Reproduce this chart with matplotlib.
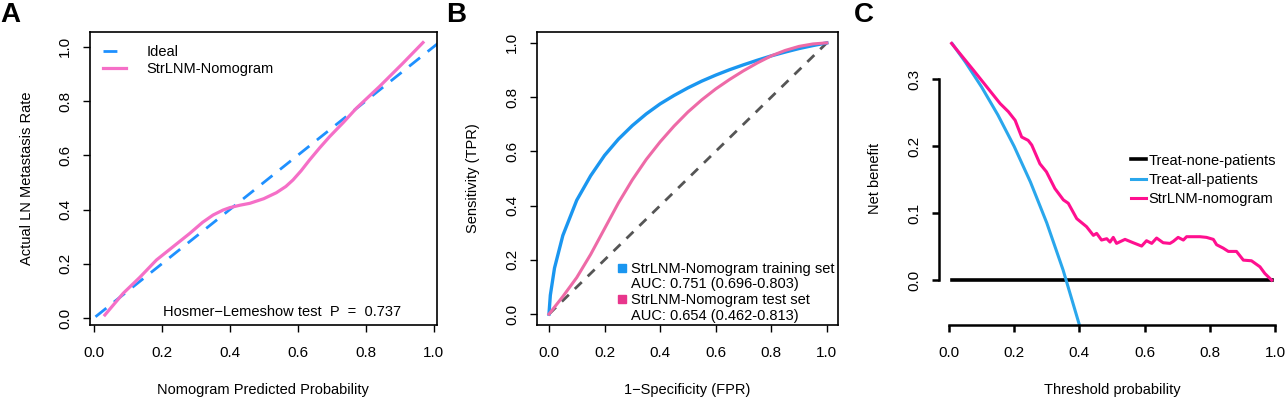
import matplotlib
matplotlib.use("Agg")
import matplotlib.pyplot as plt
from matplotlib.lines import Line2D

plt.rcParams['font.family'] = ['Liberation Sans', 'DejaVu Sans']
plt.rcParams['font.size'] = 10.5

# A: calibration curve
cal_pred = [0.032, 0.086, 0.135, 0.184, 0.235, 0.282, 0.320, 0.351, 0.380, 0.400, 0.430, 0.459,
            0.500, 0.537, 0.565, 0.586, 0.610, 0.635, 0.665, 0.694, 0.735, 0.773, 0.841, 0.910, 0.969]
cal_obs = [0.011, 0.091, 0.150, 0.214, 0.265, 0.312, 0.353, 0.380, 0.398, 0.407, 0.416, 0.423,
           0.440, 0.462, 0.485, 0.509, 0.543, 0.583, 0.628, 0.669, 0.722, 0.774, 0.854, 0.940, 1.016]
ideal = [-0.05, 1.05]
hl_label = "Hosmer\u2212Lemeshow test  P  =  0.737"

# B: ROC curves
train_fpr = [0.0, 0.005, 0.02, 0.05, 0.10, 0.15, 0.20, 0.25, 0.30, 0.35, 0.40, 0.45,
             0.50, 0.55, 0.60, 0.65, 0.70, 0.75, 0.80, 0.85, 0.90, 0.95, 1.0]
train_tpr = [0.0, 0.070, 0.170, 0.290, 0.420, 0.510, 0.585, 0.645, 0.695, 0.738, 0.775, 0.806,
             0.834, 0.859, 0.881, 0.901, 0.919, 0.936, 0.952, 0.966, 0.979, 0.990, 1.0]
test_fpr = [0.0, 0.05, 0.10, 0.15, 0.20, 0.25, 0.30, 0.35, 0.40, 0.45, 0.50,
            0.55, 0.60, 0.65, 0.70, 0.75, 0.80, 0.85, 0.90, 0.95, 1.0]
test_tpr = [0.0, 0.065, 0.135, 0.220, 0.315, 0.410, 0.495, 0.570, 0.635, 0.693, 0.745,
            0.790, 0.830, 0.865, 0.897, 0.926, 0.952, 0.972, 0.987, 0.996, 1.0]
diag = [0.0, 1.0]
roc_labels = ["StrLNM-Nomogram training set", "AUC: 0.751 (0.696-0.803)",
              "StrLNM-Nomogram test set", "AUC: 0.654 (0.462-0.813)"]

# C: decision curve
all_thr = [0.01, 0.05, 0.10, 0.15, 0.20, 0.25, 0.30, 0.35, 0.40]
all_nb = [0.3535, 0.3263, 0.2889, 0.2471, 0.200, 0.1467, 0.0857, 0.0154, -0.0667]
none_thr = [0.01, 0.99]
none_nb = [0.0, 0.0]
nom_thr = [0.008, 0.075, 0.116, 0.157, 0.182, 0.203, 0.223, 0.243, 0.254, 0.279, 0.299, 0.325,
           0.351, 0.366, 0.392, 0.422, 0.443, 0.453, 0.468, 0.484, 0.494, 0.504, 0.514, 0.540,
           0.565, 0.591, 0.606, 0.622, 0.637, 0.657, 0.678, 0.688, 0.703, 0.719, 0.729, 0.770,
           0.790, 0.811, 0.821, 0.841, 0.857, 0.882, 0.903, 0.928, 0.954, 0.969, 0.990]
nom_nb = [0.354, 0.314, 0.289, 0.264, 0.252, 0.239, 0.214, 0.209, 0.202, 0.174, 0.162, 0.137,
          0.120, 0.115, 0.092, 0.080, 0.067, 0.070, 0.060, 0.062, 0.057, 0.064, 0.055, 0.061,
          0.056, 0.051, 0.059, 0.055, 0.063, 0.056, 0.055, 0.058, 0.064, 0.060, 0.065, 0.065,
          0.064, 0.061, 0.053, 0.048, 0.043, 0.043, 0.030, 0.029, 0.020, 0.010, 0.000]

ticks01 = [0.0, 0.2, 0.4, 0.6, 0.8, 1.0]


def style_ticks(ax, width=1.0):
    ax.tick_params(direction='out', length=5, width=width, labelsize=11)
    ax.tick_params(axis='x', pad=10)
    ax.tick_params(axis='y', pad=8)
    ax.set_xticks(ticks01)
    ax.set_xticklabels([f"{t:.1f}" for t in ticks01])
    for lab in ax.get_yticklabels():
        lab.set_rotation(90)
        lab.set_va('center')


fig = plt.figure(figsize=(12.85, 3.98), dpi=100)

# ---- A
axA = fig.add_axes([0.0700, 0.1834, 0.2700, 0.7362])
axA.plot(ideal, ideal, color='#1E90FF', lw=2.0, ls=(0, (5, 3.5)), label='Ideal')
axA.plot(cal_pred, cal_obs, color='#F56FC7', lw=2.3, label='StrLNM-Nomogram')
axA.set_xlim(-0.012, 1.01)
axA.set_ylim(-0.026, 1.055)
axA.set_yticks(ticks01)
axA.set_yticklabels([f"{t:.1f}" for t in ticks01])
style_ticks(axA)
for s in axA.spines.values():
    s.set_linewidth(1.2)
axA.text(0.553, 0.022, hl_label, ha='center', va='center', fontsize=10.5)
axA.legend(loc='upper left', frameon=False, handlelength=1.6, handletextpad=1.4,
           labelspacing=0.2, borderaxespad=0.5, fontsize=10.5)
axA.set_xlabel("Nomogram Predicted Probability", va='center')
axA.xaxis.set_label_coords(0.5, -0.222)
axA.set_ylabel("Actual LN Metastasis Rate", va='center')
axA.yaxis.set_label_coords(-0.1816, 0.5)

# ---- B
axB = fig.add_axes([0.4179, 0.1834, 0.2342, 0.7362])
axB.plot(diag, diag, color='#555555', lw=2.0, ls=(0, (3.5, 3)))
axB.plot(train_fpr, train_tpr, color='#1A96F0', lw=2.4)
axB.plot(test_fpr, test_tpr, color='#EE6AA7', lw=2.2)
axB.set_xlim(-0.043, 1.04)
axB.set_ylim(-0.04, 1.04)
axB.set_yticks(ticks01)
axB.set_yticklabels([f"{t:.1f}" for t in ticks01])
style_ticks(axB)
for s in axB.spines.values():
    s.set_linewidth(1.2)
blank = Line2D([], [], ls='none', marker='s', markersize=6, color='none')
handles = [Line2D([], [], ls='none', marker='s', markersize=6, color='#1A96F0'), blank,
           Line2D([], [], ls='none', marker='s', markersize=6, color='#E8368C'), blank]
axB.legend(handles, roc_labels, loc='lower right', frameon=False, handlelength=0.6,
           handletextpad=0.3, labelspacing=0.12, borderaxespad=0.0, fontsize=10.5,
           bbox_to_anchor=(1.007, -0.013))
axB.set_xlabel("1\u2212Specificity (FPR)", va='center')
axB.xaxis.set_label_coords(0.5, -0.222)
axB.set_ylabel("Sensitivity (TPR)", va='center')
axB.yaxis.set_label_coords(-0.2126, 0.5)

# ---- C
axC = fig.add_axes([0.7307, 0.1834, 0.2677, 0.7362])
axC.plot(none_thr, none_nb, color='black', lw=2.6, label='Treat-none-patients')
axC.plot(all_thr, all_nb, color='#2AA7EC', lw=2.2, label='Treat-all-patients')
axC.plot(nom_thr, nom_nb, color='#FF0F8F', lw=2.2, label='StrLNM-nomogram')
axC.set_xlim(-0.0307, 1.0245)
axC.set_ylim(-0.067, 0.371)
axC.set_yticks([0.0, 0.1, 0.2, 0.3])
axC.set_yticklabels(["0.0", "0.1", "0.2", "0.3"])
style_ticks(axC, width=1.8)
axC.spines['top'].set_visible(False)
axC.spines['right'].set_visible(False)
axC.spines['left'].set_bounds(0.0, 0.3)
axC.spines['bottom'].set_bounds(0.0, 1.0)
axC.spines['left'].set_linewidth(1.8)
axC.spines['bottom'].set_linewidth(1.8)
axC.legend(loc='upper left', bbox_to_anchor=(0.52, 0.63), frameon=False, handlelength=1.0,
           handletextpad=0.2, labelspacing=0.35, fontsize=10.5)
axC.set_xlabel("Threshold probability", va='center')
axC.xaxis.set_label_coords(0.503, -0.222)
axC.set_ylabel("Net benefit", va='center')
axC.yaxis.set_label_coords(-0.186, 0.5)

fig.text(10 / 1285, 1 - 15 / 398, "A", fontsize=20, fontweight='bold', ha='center', va='center')
fig.text(456 / 1285, 1 - 15 / 398, "B", fontsize=20, fontweight='bold', ha='center', va='center')
fig.text(864 / 1285, 1 - 15 / 398, "C", fontsize=20, fontweight='bold', ha='center', va='center')

fig.savefig("out.png", dpi=100)
